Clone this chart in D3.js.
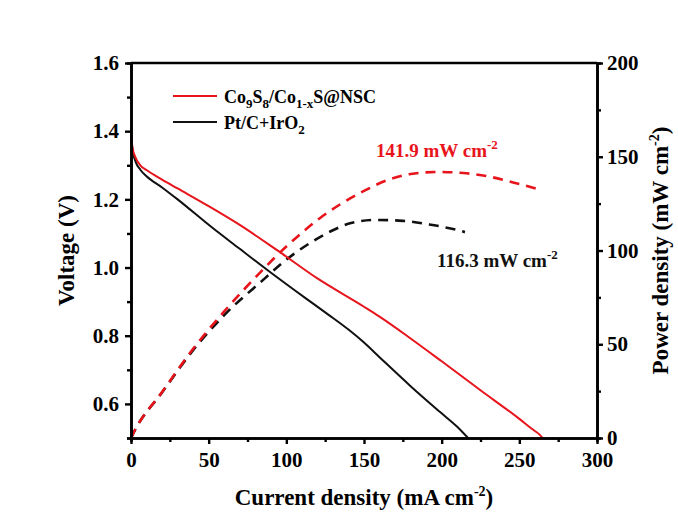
<!DOCTYPE html>
<html>
<head>
<meta charset="utf-8">
<script src="https://cdn.jsdelivr.net/npm/d3@7"></script>
<style>
  body { margin: 0; background: #fff; }
  text { font-family: "Liberation Serif", "Times New Roman", serif; font-weight: bold; }
</style>
</head>
<body>
<script>
// polarization curves (voltage vs current density)
var redI   = [0, 1, 3, 6, 10, 20, 30, 50, 70, 95, 120, 150, 160, 180, 200, 225, 250, 258, 263, 265];
var redV   = [1.39, 1.35, 1.322, 1.30, 1.286, 1.258, 1.232, 1.18, 1.125, 1.048, 0.968, 0.885, 0.856, 0.792, 0.725, 0.64, 0.556, 0.527, 0.51, 0.50];
var blackI = [0, 1, 3, 6, 10, 20, 30, 52, 70, 88, 113, 127, 140, 150, 160, 180, 199, 210, 217];
var blackV = [1.39, 1.345, 1.31, 1.287, 1.268, 1.235, 1.2, 1.118, 1.055, 0.992, 0.908, 0.862, 0.818, 0.78, 0.737, 0.652, 0.576, 0.533, 0.50];

// power density curves (dashed)
var redPI   = [0, 2.4, 20, 39, 60, 84, 96, 108, 122, 135, 150, 165, 180, 197, 214, 229, 246, 264];
var redP    = [0, 4, 24.5, 46.5, 67.5, 89, 99, 108, 117.5, 124.8, 131.8, 137.5, 140.8, 141.9, 141.3, 139.7, 136.3, 132.3];
var blackPI = [0, 2.4, 20, 39, 60, 86, 98, 113, 128, 141, 158, 175, 192, 210, 215];
var blackP  = [0, 4, 24.3, 45.8, 65.5, 85, 93.8, 102.8, 110, 114.5, 116.3, 115.8, 113.9, 110.9, 109.8];

var xTicks  = [0, 50, 100, 150, 200, 250, 300];
var yTicks  = [0.6, 0.8, 1.0, 1.2, 1.4, 1.6];
var y2Ticks = [0, 50, 100, 150, 200];

var width = 678, height = 516;
var margin = {top: 63, right: 81, bottom: 78, left: 131};
var red = "#e8141c";

var svg = d3.select("body").append("svg")
    .attr("width", width)
    .attr("height", height);

svg.append("rect").attr("width", width).attr("height", height).attr("fill", "#fff");

var x = d3.scaleLinear().domain([0, 300]).range([margin.left, width - margin.right]);
var y = d3.scaleLinear().domain([0.5, 1.6]).range([height - margin.bottom, margin.top]);
var y2 = d3.scaleLinear().domain([0, 200]).range([height - margin.bottom, margin.top]);

function zip(a, b) { return a.map(function(d, i) { return [d, b[i]]; }); }

var lineV = d3.line().x(function(d) { return x(d[0]); }).y(function(d) { return y(d[1]); })
    .curve(d3.curveMonotoneX);
var lineP = d3.line().x(function(d) { return x(d[0]); }).y(function(d) { return y2(d[1]); })
    .curve(d3.curveMonotoneX);

// power curves first
svg.append("path").datum(zip(blackPI, blackP)).attr("d", lineP)
    .attr("fill", "none").attr("stroke", "#111").attr("stroke-width", 2.6)
    .attr("stroke-dasharray", "10,7");
svg.append("path").datum(zip(redPI, redP)).attr("d", lineP)
    .attr("fill", "none").attr("stroke", red).attr("stroke-width", 2.6)
    .attr("stroke-dasharray", "10,7");

svg.append("path").datum(zip(blackI, blackV)).attr("d", lineV)
    .attr("fill", "none").attr("stroke", "#111").attr("stroke-width", 2);
svg.append("path").datum(zip(redI, redV)).attr("d", lineV)
    .attr("fill", "none").attr("stroke", red).attr("stroke-width", 2);

// axes
var fs = 21;
function styleAxis(g) {
  g.select(".domain").attr("stroke", "#000").attr("stroke-width", 2.6);
  g.selectAll(".tick line").attr("stroke", "#000").attr("stroke-width", 2.4);
  g.selectAll(".tick text").attr("fill", "#000").style("font-size", fs + "px")
    .style("font-family", "'Liberation Serif', 'Times New Roman', serif").style("font-weight", "bold");
}

var bottom = height - margin.bottom, right = width - margin.right;

svg.append("g").attr("transform", "translate(0," + bottom + ")")
  .call(d3.axisBottom(x).tickValues([25, 75, 125, 175, 225, 275]).tickSize(4).tickFormat(""))
  .call(styleAxis);
svg.append("g").attr("transform", "translate(0," + bottom + ")")
  .call(d3.axisBottom(x).tickValues(xTicks).tickSize(6).tickPadding(8).tickSizeOuter(0).tickFormat(d3.format("d")))
  .call(styleAxis);

svg.append("g").attr("transform", "translate(" + margin.left + ",0)")
  .call(d3.axisLeft(y).tickValues([0.5, 0.7, 0.9, 1.1, 1.3, 1.5]).tickSize(4).tickFormat(""))
  .call(styleAxis);
svg.append("g").attr("transform", "translate(" + margin.left + ",0)")
  .call(d3.axisLeft(y).tickValues(yTicks).tickSize(6).tickPadding(6).tickSizeOuter(0).tickFormat(d3.format(".1f")))
  .call(styleAxis);

svg.append("g").attr("transform", "translate(" + right + ",0)")
  .call(d3.axisRight(y2).tickValues([25, 75, 125, 175]).tickSize(4).tickFormat(""))
  .call(styleAxis);
svg.append("g").attr("transform", "translate(" + right + ",0)")
  .call(d3.axisRight(y2).tickValues(y2Ticks).tickSize(6).tickPadding(4).tickSizeOuter(0).tickFormat(d3.format("d")))
  .call(styleAxis);

// top border
svg.append("line").attr("x1", margin.left).attr("x2", right)
  .attr("y1", margin.top).attr("y2", margin.top)
  .attr("stroke", "#000").attr("stroke-width", 2.6);

// axis titles
var xt = svg.append("text").attr("x", (margin.left + right) / 2).attr("y", 505)
  .attr("text-anchor", "middle").style("font-size", "23px");
xt.append("tspan").text("Current density (mA cm");
xt.append("tspan").attr("dy", -9).style("font-size", "14px").text("-2");
xt.append("tspan").attr("dy", 9).text(")");

svg.append("text").attr("transform", "translate(74," + (margin.top + bottom) / 2 + ") rotate(-90)")
  .attr("text-anchor", "middle").style("font-size", "23px").text("Voltage (V)");

var yt = svg.append("text").attr("transform", "translate(668," + (margin.top + bottom) / 2 + ") rotate(-90)")
  .attr("text-anchor", "middle").style("font-size", "23px");
yt.append("tspan").text("Power density (mW cm");
yt.append("tspan").attr("dy", -9).style("font-size", "14px").text("-2");
yt.append("tspan").attr("dy", 9).text(")");

// legend
var legend = [
  {color: red, parts: [["Co", 0], ["9", 1], ["S", 0], ["8", 1], ["/Co", 0], ["1-x", 1], ["S@NSC", 0]]},
  {color: "#111", parts: [["Pt/C+IrO", 0], ["2", 1]]}
];
legend.forEach(function(l, i) {
  var ly = 96 + i * 26;
  svg.append("line").attr("x1", 173).attr("x2", 217).attr("y1", ly).attr("y2", ly)
    .attr("stroke", l.color).attr("stroke-width", 2.2);
  var t = svg.append("text").attr("x", 224).attr("y", ly + 7).style("font-size", "18px").attr("fill", "#000");
  var prev = 0;
  l.parts.forEach(function(p) {
    var shift = p[1] ? 5 : 0;
    t.append("tspan").attr("dy", shift - prev).style("font-size", p[1] ? "13px" : "18px").text(p[0]);
    prev = shift;
  });
});

// peak annotations
var a1 = svg.append("text").attr("x", 376).attr("y", 157).attr("fill", red).style("font-size", "19px");
a1.append("tspan").text("141.9 mW cm");
a1.append("tspan").attr("dy", -8).style("font-size", "13px").text("-2");

var a2 = svg.append("text").attr("x", 437).attr("y", 267).attr("fill", "#111").style("font-size", "19px");
a2.append("tspan").text("116.3 mW cm");
a2.append("tspan").attr("dy", -8).style("font-size", "13px").text("-2");
</script>
</body>
</html>
